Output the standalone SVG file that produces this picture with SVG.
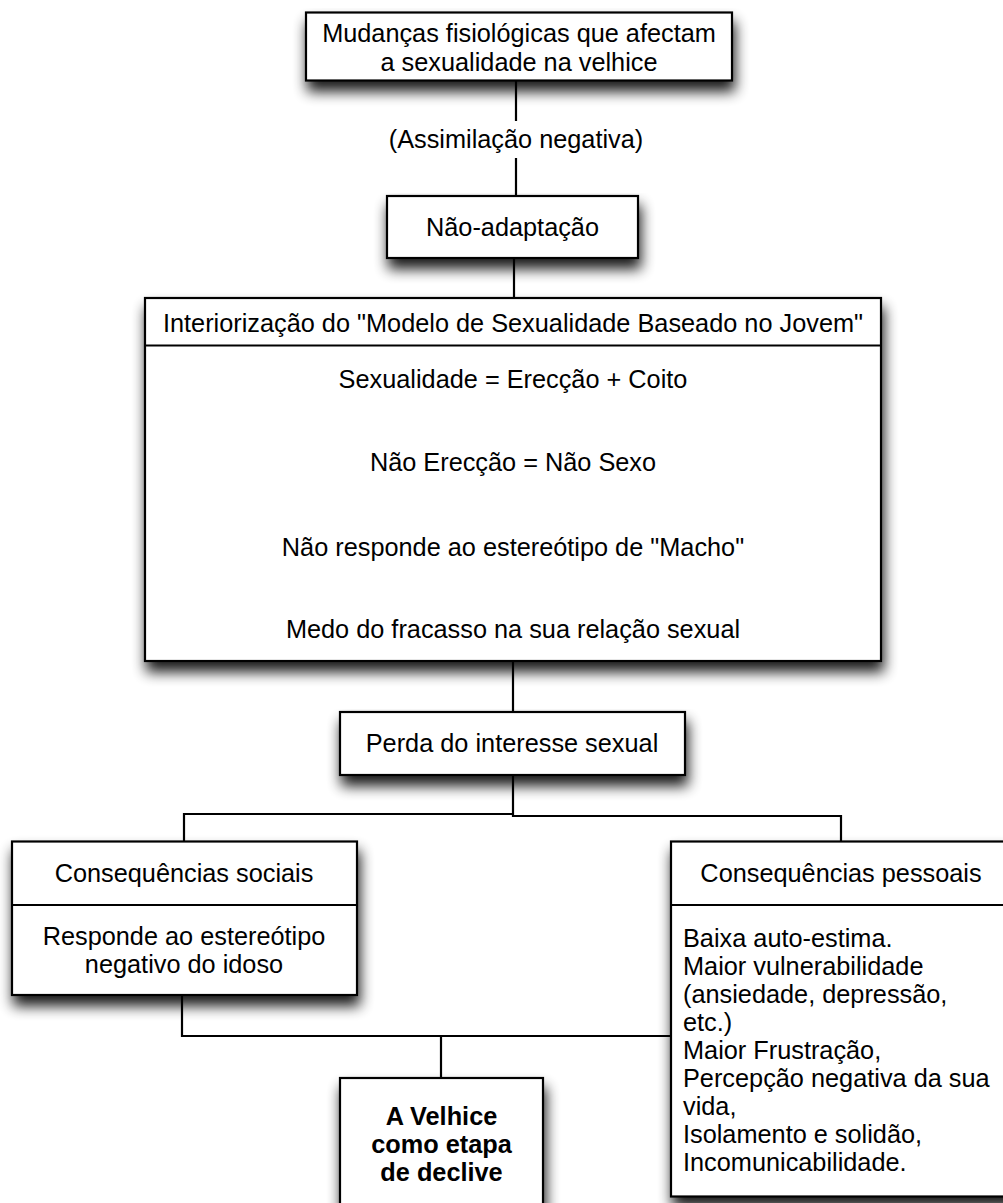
<svg xmlns="http://www.w3.org/2000/svg" width="1003" height="1203" viewBox="0 0 1003 1203">
<defs>
<filter id="sh" x="-20%" y="-20%" width="140%" height="170%">
<feGaussianBlur in="SourceAlpha" stdDeviation="7"/>
<feOffset dx="2" dy="10" result="b"/>
<feComponentTransfer><feFuncA type="linear" slope="0.9"/></feComponentTransfer>
<feMerge><feMergeNode/><feMergeNode in="SourceGraphic"/></feMerge>
</filter>
</defs>
<style>
.box{fill:#fff;stroke:#000;stroke-width:2.2}
.ln{fill:none;stroke:#000;stroke-width:2.2}
text{font-family:"Liberation Sans",Arial,Helvetica,sans-serif;font-size:25.3px;fill:#000}
.c{text-anchor:middle}
.b{font-weight:bold}
</style>
<rect width="1003" height="1203" fill="#fff"/>
<g id="connectors">
<path class="ln" d="M516,80 V121 M516,158 V197"/>
<path class="ln" d="M514,258 V299"/>
<path class="ln" d="M513,661 V713"/>
<path class="ln" d="M513,775 V814 H184 V842 M513,814 V816 H841 V842"/>
<path class="ln" d="M182,995 V1036 H671 M441,1036 V1079"/>
<text class="c" x="516" y="148">(Assimilação negativa)</text>
</g>
<g id="n1">
<rect class="box" x="306" y="12.5" width="426" height="68" filter="url(#sh)"/>
<text class="c" x="519" y="42">Mudanças fisiológicas que afectam</text>
<text class="c" x="519" y="71">a sexualidade na velhice</text>
</g>
<g id="n2">
<rect class="box" x="387" y="196" width="251" height="62" filter="url(#sh)"/>
<text class="c" x="512.5" y="236">Não-adaptação</text>
</g>
<g id="n3">
<rect class="box" x="145" y="298" width="736" height="363" filter="url(#sh)"/>
<line class="ln" x1="145" y1="345.5" x2="881" y2="345.5"/>
<text class="c" x="513" y="332">Interiorização do "Modelo de Sexualidade Baseado no Jovem"</text>
<text class="c" x="513" y="388">Sexualidade = Erecção + Coito</text>
<text class="c" x="513" y="471">Não Erecção = Não Sexo</text>
<text class="c" x="513" y="556">Não responde ao estereótipo de "Macho"</text>
<text class="c" x="513" y="638">Medo do fracasso na sua relação sexual</text>
</g>
<g id="n4">
<rect class="box" x="340" y="712" width="345" height="63" filter="url(#sh)"/>
<text class="c" x="512" y="752">Perda do interesse sexual</text>
</g>
<g id="n5">
<rect class="box" x="12" y="841.5" width="345" height="153.5" filter="url(#sh)"/>
<line class="ln" x1="12" y1="905" x2="357" y2="905"/>
<text class="c" x="184" y="882">Consequências sociais</text>
<text class="c" x="184" y="945">Responde ao estereótipo</text>
<text class="c" x="184" y="973">negativo do idoso</text>
</g>
<g id="n6">
<rect class="box" x="671" y="841.5" width="345" height="355" filter="url(#sh)"/>
<line class="ln" x1="671" y1="905" x2="1016" y2="905"/>
<text class="c" x="841" y="882">Consequências pessoais</text>
<text x="683" y="947">Baixa auto-estima.</text>
<text x="683" y="975">Maior vulnerabilidade</text>
<text x="683" y="1003">(ansiedade, depressão,</text>
<text x="683" y="1031">etc.)</text>
<text x="683" y="1059">Maior Frustração,</text>
<text x="683" y="1087">Percepção negativa da sua</text>
<text x="683" y="1115">vida,</text>
<text x="683" y="1143">Isolamento e solidão,</text>
<text x="683" y="1171">Incomunicabilidade.</text>
</g>
<g id="n7">
<rect class="box" x="340" y="1078" width="203" height="140" filter="url(#sh)"/>
<text class="c b" x="441.5" y="1125">A Velhice</text>
<text class="c b" x="441.5" y="1153">como etapa</text>
<text class="c b" x="441.5" y="1181">de declive</text>
</g>
</svg>
